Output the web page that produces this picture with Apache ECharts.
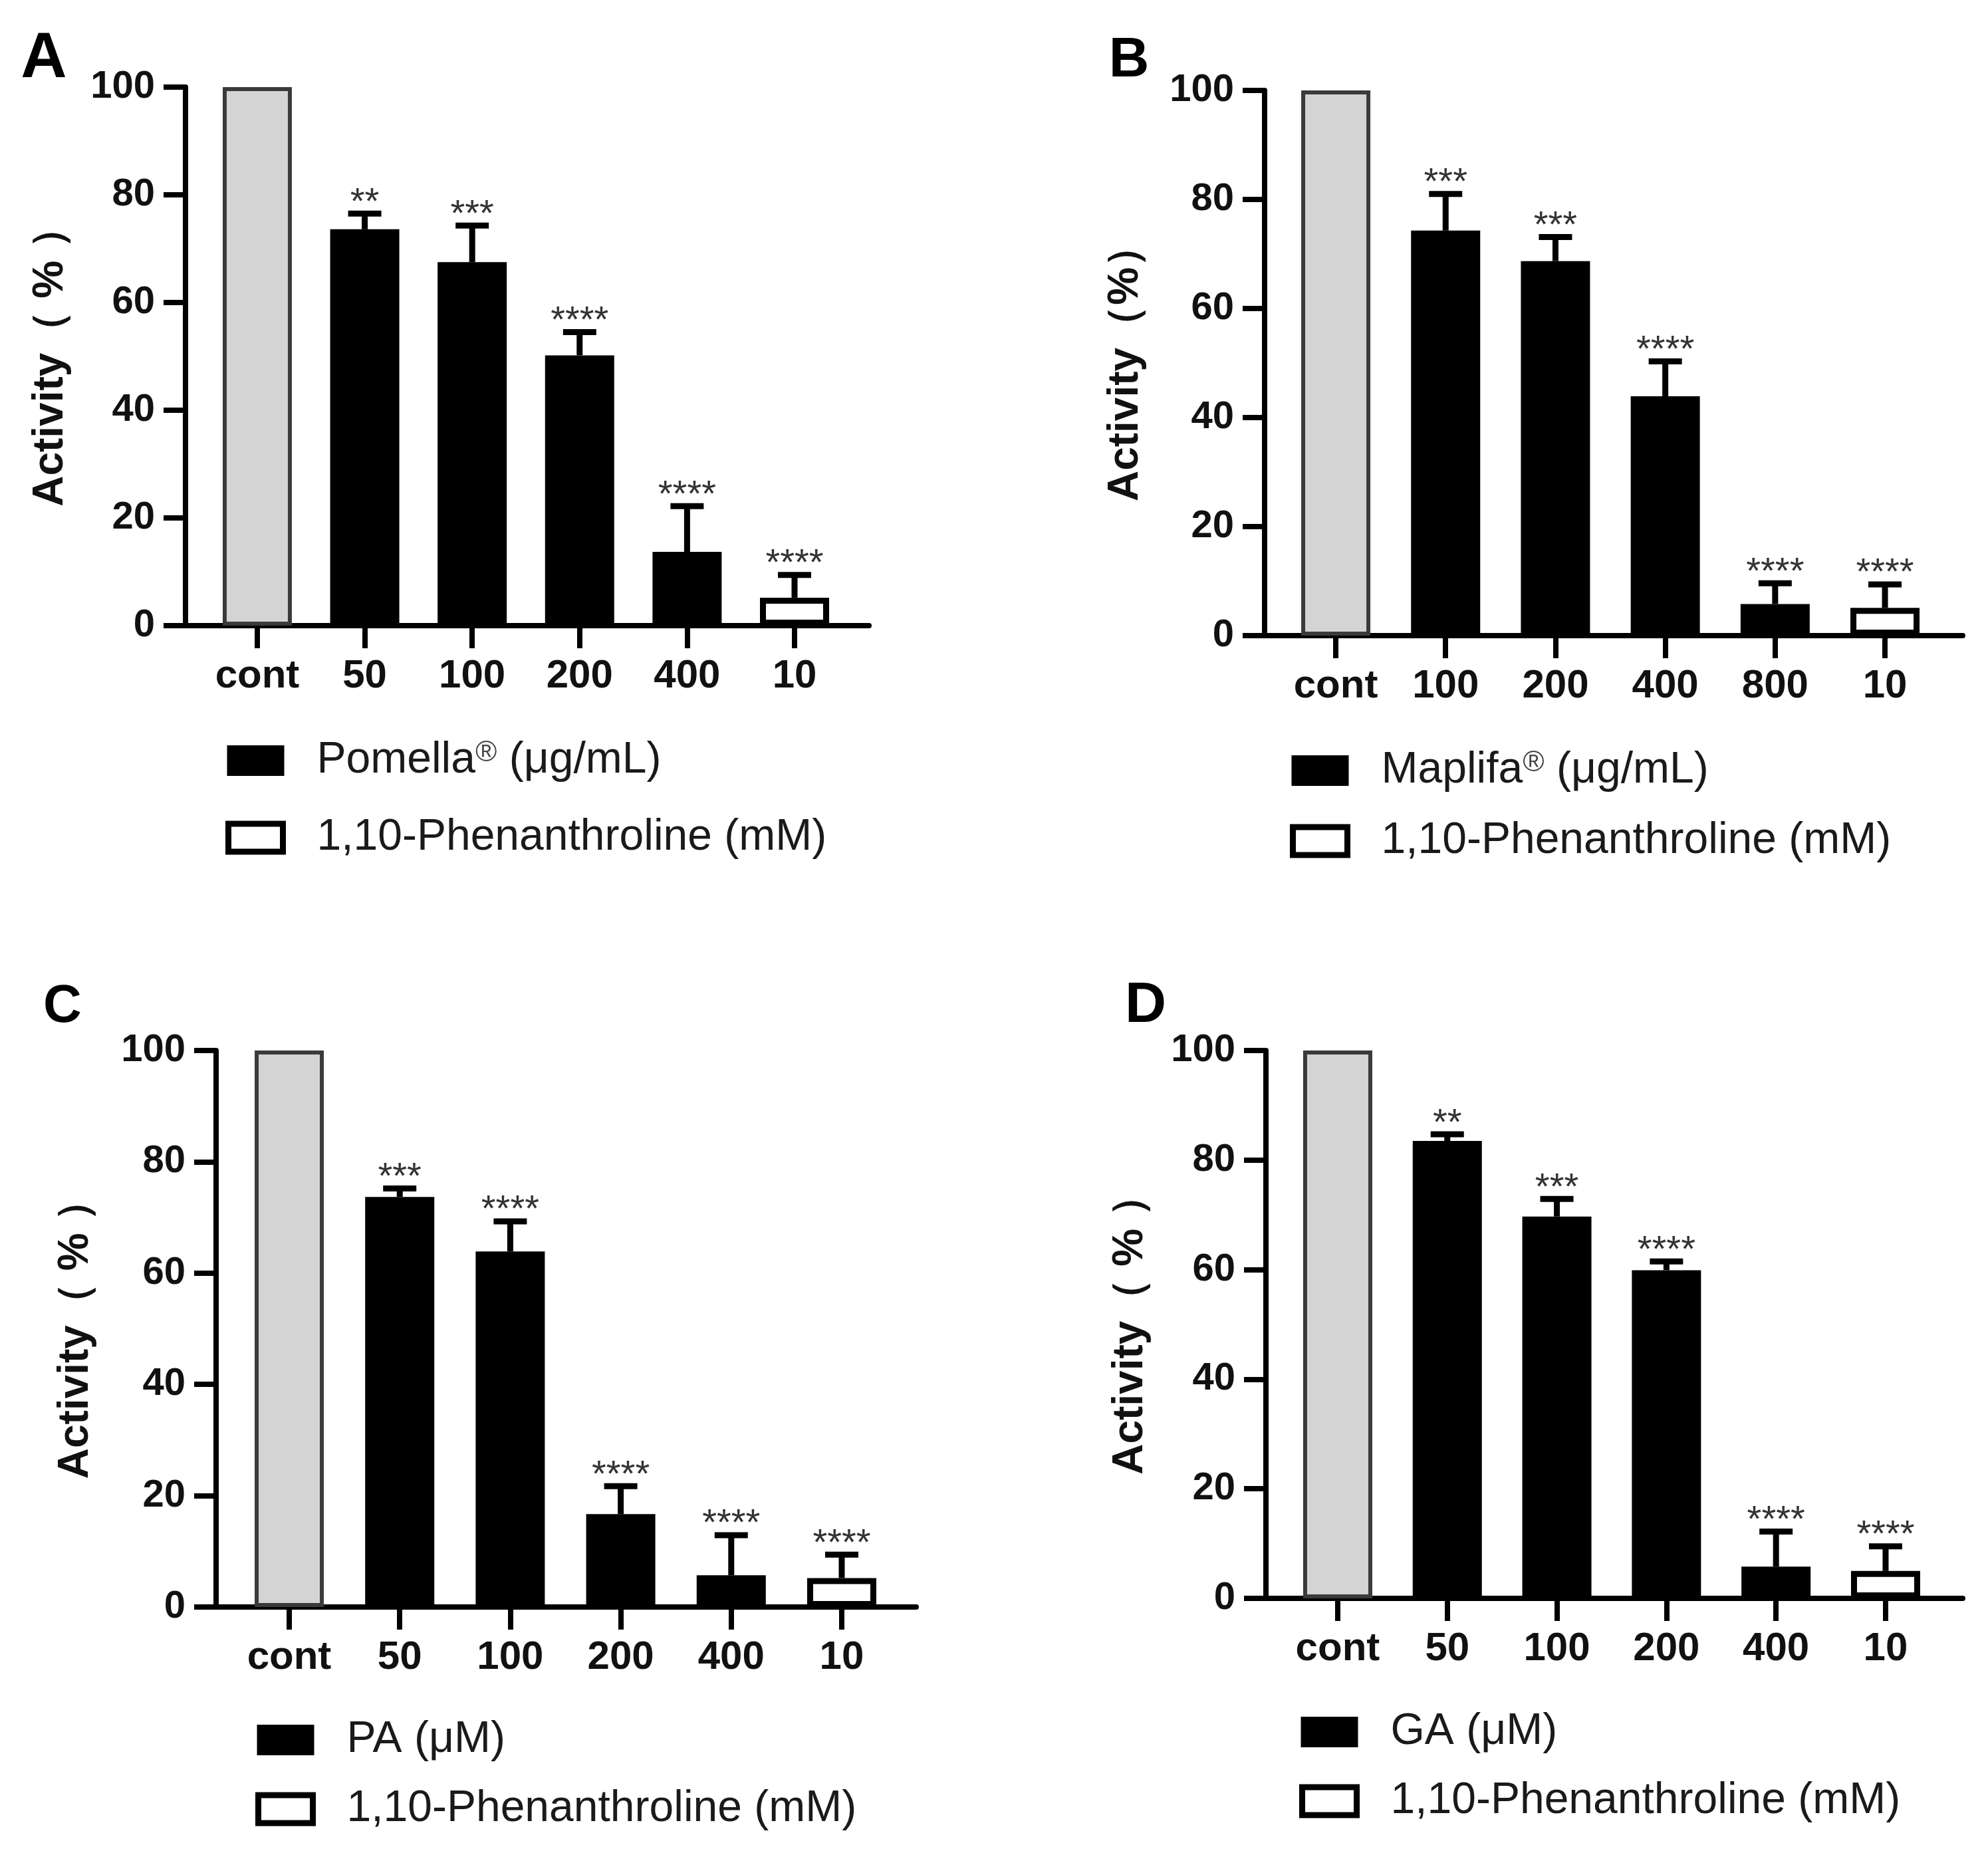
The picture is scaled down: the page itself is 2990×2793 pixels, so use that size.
<!DOCTYPE html>
<html>
<head>
<meta charset="utf-8">
<title>Activity</title>
<script src="https://cdn.jsdelivr.net/npm/echarts@6/dist/echarts.min.js"></script>
<style>
  html, body { margin: 0; padding: 0; background: #fff; }
  #main { width: 2990px; height: 2793px; }
</style>
</head>
<body>
<div id="main"></div>
<script>
// x axis categories of each panel
var catsA = ['cont', '50', '100', '200', '400', '10'];
var catsB = ['cont', '100', '200', '400', '800', '10'];
var catsC = ['cont', '50', '100', '200', '400', '10'];
var catsD = ['cont', '50', '100', '200', '400', '10'];

// activity (%) means and error bars
var meanA = [100, 73.6, 67.5, 50.2, 13.7, 5.2];
var errA  = [0, 2.9, 6.8, 4.3, 8.5, 4.2];
var meanB = [100, 74.3, 68.7, 43.9, 5.8, 5.1];
var errB  = [0, 6.7, 4.4, 6.4, 3.8, 4.3];
var meanC = [100, 73.7, 63.9, 16.7, 5.7, 5.2];
var errC  = [0, 1.5, 5.4, 5.0, 7.2, 4.2];
var meanD = [100, 83.5, 69.7, 59.9, 5.8, 5.0];
var errD  = [0, 1.2, 3.2, 1.6, 6.4, 4.5];

// significance marks
var starsA = ['', '**', '***', '****', '****', '****'];
var starsB = ['', '***', '***', '****', '****', '****'];
var starsC = ['', '***', '****', '****', '****', '****'];
var starsD = ['', '**', '***', '****', '****', '****'];

var letters = ['A', 'B', 'C', 'D'];
var sampleNames = ['Pomella® (μg/mL)', 'Maplifa® (μg/mL)', 'PA (μM)', 'GA (μM)'];
var phenName = '1,10-Phenanthroline (mM)';
var yTitles = ['Activity（ % ）', 'Activity（%）', 'Activity（ % ）', 'Activity（ % ）'];

var FONT = 'Liberation Sans, Arial, sans-serif';

// panel geometry
var layout = [
  {left: 279, top: 131, width: 1028, height: 810, xMin: -0.668, xMax: 5.693, gap: 171,
   lgLeft: 334, lgTop: 1106, lgGap: 50, letter: [66, 90, 96]},
  {left: 1902, top: 136, width: 1050, height: 820, xMin: -0.648, xMax: 5.708, gap: 177,
   lgLeft: 1935, lgTop: 1121, lgGap: 40, letter: [1698, 92, 84]},
  {left: 325, top: 1580, width: 1053, height: 837, xMin: -0.662, xMax: 5.674, gap: 179,
   lgLeft: 379, lgTop: 2579, lgGap: 38, letter: [94, 1515, 80]},
  {left: 1904, top: 1580, width: 1048, height: 824, xMin: -0.655, xMax: 5.704, gap: 172,
   lgLeft: 1949, lgTop: 2567, lgGap: 38, letter: [1723, 1513, 86]}
];

var cats = [catsA, catsB, catsC, catsD];
var means = [meanA, meanB, meanC, meanD];
var errs = [errA, errB, errC, errD];
var stars = [starsA, starsB, starsC, starsD];

function errRender(st) {
  return function (params, api) {
    var x = api.value(0), m = api.value(1), e = api.value(2);
    var base = api.coord([x, m]);
    var top = api.coord([x, m + e]);
    var half = 25;
    return {
      type: 'group',
      children: [
        {type: 'line', shape: {x1: base[0], y1: base[1], x2: top[0], y2: top[1]},
         style: {stroke: '#000', lineWidth: 9}},
        {type: 'line', shape: {x1: top[0] - half, y1: top[1], x2: top[0] + half, y2: top[1]},
         style: {stroke: '#000', lineWidth: 9}},
        {type: 'text', style: {text: st[x], x: top[0], y: top[1] - 16, align: 'center',
         verticalAlign: 'middle', fontSize: 56, fontFamily: FONT, fill: '#333'}}
      ]
    };
  };
}

var grids = [], xAxes = [], yAxes = [], series = [], legends = [], graphics = [];

layout.forEach(function (L, i) {
  grids.push({left: L.left, top: L.top, width: L.width, height: L.height});
  var labels = cats[i];
  xAxes.push({
    type: 'value', gridIndex: i, min: L.xMin, max: L.xMax,
    axisLine: {onZero: false, lineStyle: {color: '#000', width: 8}},
    axisTick: {customValues: [0, 1, 2, 3, 4, 5], length: 34, lineStyle: {color: '#000', width: 8}},
    axisLabel: {customValues: [0, 1, 2, 3, 4, 5], margin: 46,
      formatter: function (v) { return labels[Math.round(v)]; },
      fontSize: 60, fontWeight: 'bold', fontFamily: FONT, color: '#111'},
    splitLine: {show: false}
  });
  yAxes.push({
    type: 'value', gridIndex: i, min: 0, max: 100, interval: 20,
    name: yTitles[i], nameLocation: 'middle', nameGap: L.gap,
    nameTextStyle: {fontSize: 64, fontWeight: 'bold', fontFamily: FONT, color: '#111'},
    axisLine: {show: true, onZero: false, lineStyle: {color: '#000', width: 8}},
    axisTick: {show: true, length: 33, lineStyle: {color: '#000', width: 8}},
    axisLabel: {margin: 46, fontSize: 58, fontWeight: 'bold', fontFamily: FONT, color: '#111'},
    splitLine: {show: false}
  });

  var m = means[i], e = errs[i];
  var common = {type: 'bar', xAxisIndex: i, yAxisIndex: i, barWidth: 104, barGap: '-100%', silent: true};
  series.push(Object.assign({}, common, {
    name: 'cont ' + letters[i],
    data: [[0, m[0]]],
    itemStyle: {color: '#d4d4d4', borderColor: '#3a3a3a', borderWidth: 6}
  }));
  series.push(Object.assign({}, common, {
    name: sampleNames[i],
    data: [1, 2, 3, 4].map(function (k) { return [k, m[k]]; }),
    itemStyle: {color: '#000', borderColor: '#000', borderWidth: 4}
  }));
  series.push(Object.assign({}, common, {
    name: phenName,
    data: [[5, m[5]]],
    itemStyle: {color: '#fff', borderColor: '#000', borderWidth: 9}
  }));
  series.push({
    type: 'custom', name: 'sd ' + letters[i], xAxisIndex: i, yAxisIndex: i, silent: true,
    renderItem: errRender(stars[i]),
    encode: {x: 0, y: 1},
    data: [1, 2, 3, 4, 5].map(function (k) { return [k, m[k], e[k]]; }),
    z: 5
  });

  legends.push({
    orient: 'vertical', left: L.lgLeft, top: L.lgTop, itemGap: L.lgGap,
    itemWidth: 82, itemHeight: 42, icon: 'rect', selectedMode: false,
    data: [
      {name: sampleNames[i], itemStyle: {color: '#000', borderColor: '#000', borderWidth: 4}},
      {name: phenName, itemStyle: {color: '#fff', borderColor: '#000', borderWidth: 9}}
    ],
    formatter: function (name) { return name.replace('®', '{r|®}'); },
    textStyle: {fontSize: 66, lineHeight: 66, fontFamily: FONT, color: '#1a1a1a', padding: [0, 0, 0, 46],
      rich: {r: {fontSize: 44, lineHeight: 40, verticalAlign: 'top', fontFamily: FONT, color: '#444'}}}
  });

  graphics.push({
    type: 'text',
    style: {text: letters[i], x: L.letter[0], y: L.letter[1], align: 'center', verticalAlign: 'middle',
      fontSize: L.letter[2], fontWeight: 'bold', fontFamily: FONT, fill: '#000'}
  });
});

var chart = echarts.init(document.getElementById('main'));
chart.setOption({
  backgroundColor: '#fff',
  animation: false,
  grid: grids,
  xAxis: xAxes,
  yAxis: yAxes,
  legend: legends,
  graphic: graphics,
  series: series
});
</script>
</body>
</html>
